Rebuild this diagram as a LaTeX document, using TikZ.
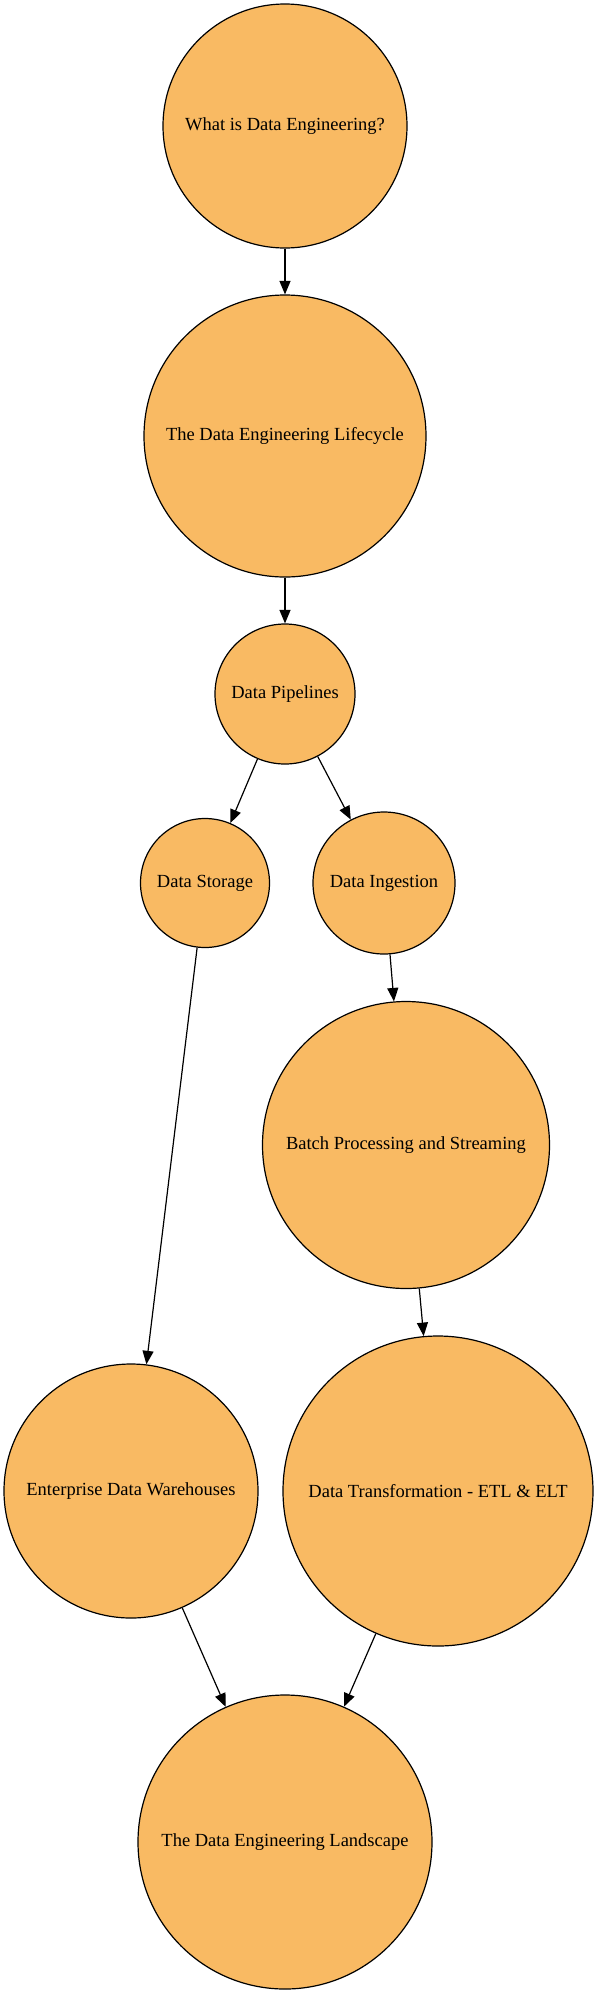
\documentclass[tikz,border=0pt]{standalone}
\usepackage{fontspec}
\setmainfont{Liberation Serif}
\usetikzlibrary{arrows.meta}
\definecolor{topicfill}{RGB}{249,186,99}

\begin{document}
\begin{tikzpicture}[x=1pt, y=-1pt,
    topic/.style={circle, draw=black, fill=topicfill, line width=1.2pt,
      inner sep=0pt, minimum size=#1, font=\fontsize{18.5}{22}\selectfont},
    link/.style={-{Triangle[length=13.5pt, width=11pt]}, line width=1.2pt}]
  % Canvas, same size as the page
  \useasboundingbox (0,0) rectangle (597,1990);

  % Topics, top to bottom
  \node[topic=244pt] (whatis)    at (285,126)  {What is Data Engineering?};
  \node[topic=282pt] (lifecycle) at (285,436)  {The Data Engineering Lifecycle};
  \node[topic=140pt] (pipelines) at (285,694)  {Data Pipelines};
  \node[topic=129pt] (storage)   at (205,883)  {Data Storage};
  \node[topic=142pt] (ingestion) at (384,883)  {Data Ingestion};
  \node[topic=287pt] (batch)     at (406,1145) {Batch Processing and Streaming};
  \node[topic=254pt] (warehouse) at (131,1491) {Enterprise Data Warehouses};
  \node[topic=310pt] (transform) at (438,1491) {Data Transformation - ETL \& ELT};
  \node[topic=294pt] (landscape) at (285,1842) {The Data Engineering Landscape};

  % Links between topics
  \foreach \a/\b in {whatis/lifecycle, lifecycle/pipelines,
      pipelines/storage, pipelines/ingestion, storage/warehouse,
      ingestion/batch, batch/transform, warehouse/landscape,
      transform/landscape}
    \draw[link] (\a) -- (\b);
\end{tikzpicture}
\end{document}
